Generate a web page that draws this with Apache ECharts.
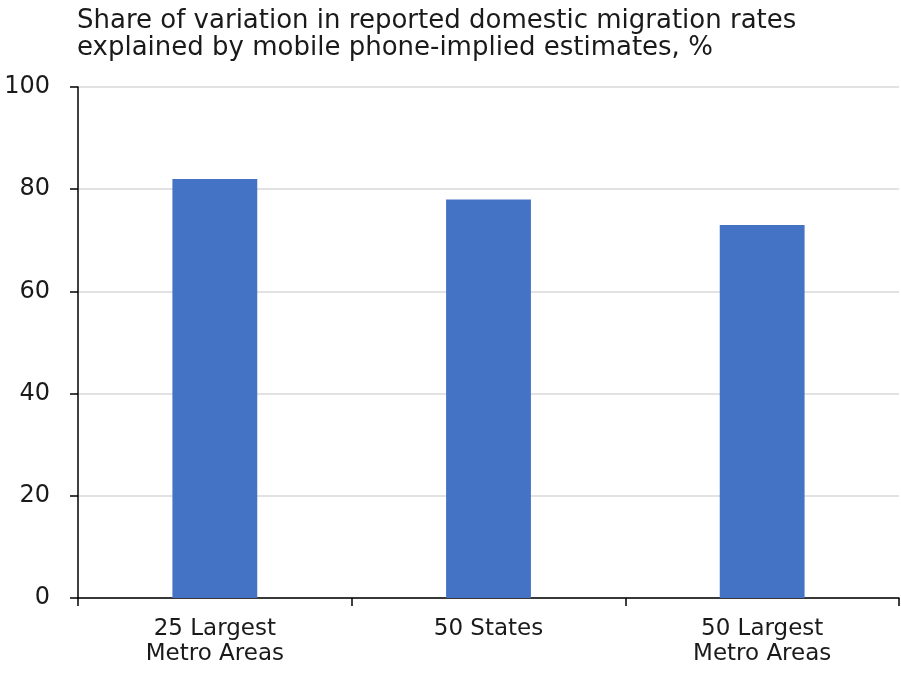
<!DOCTYPE html>
<html>
<head>
<meta charset="utf-8">
<script src="https://cdn.jsdelivr.net/npm/echarts@6/dist/echarts.min.js"></script>
<style>
  html, body { margin: 0; padding: 0; background: #fff; }
  #chart { width: 901px; height: 673px; }
</style>
</head>
<body>
<div id="chart"></div>
<script>
// Categories and values
const categories = ['25 Largest\nMetro Areas', '50 States', '50 Largest\nMetro Areas'];
const shareExplained = [82, 78, 73];
const titleLines = [
  'Share of variation in reported domestic migration rates',
  'explained by mobile phone-implied estimates, %'
];

const FONT = '"DejaVu Sans", Verdana, sans-serif';
const chart = echarts.init(document.getElementById('chart'));

chart.setOption({
  animation: false,
  title: {
    text: titleLines.join('\n'),
    left: 72,
    top: 3,
    textStyle: { fontFamily: FONT, fontSize: 26, fontWeight: 'normal', color: '#1a1a1a', lineHeight: 27 }
  },
  grid: { left: 78, right: 2, top: 87, bottom: 75 },
  xAxis: {
    type: 'category',
    data: categories,
    axisLine: { lineStyle: { color: '#000', width: 1.5 } },
    axisTick: { show: true, length: 8, alignWithLabel: false, lineStyle: { color: '#000', width: 1.5 } },
    axisLabel: { fontFamily: FONT, fontSize: 23, color: '#1a1a1a', lineHeight: 25, margin: 19 }
  },
  yAxis: {
    type: 'value',
    min: 0,
    max: 100,
    interval: 20,
    axisLine: { show: true, lineStyle: { color: '#000', width: 1.5 } },
    axisTick: { show: true, length: 8, lineStyle: { color: '#000', width: 1.5 } },
    axisLabel: { fontFamily: FONT, fontSize: 24, color: '#1a1a1a', margin: 28 },
    splitLine: { lineStyle: { color: '#d9d9d9', width: 1.5 } }
  },
  series: [{
    type: 'bar',
    data: shareExplained,
    barWidth: '31%',
    itemStyle: { color: '#4472c4' }
  }]
});
</script>
</body>
</html>
